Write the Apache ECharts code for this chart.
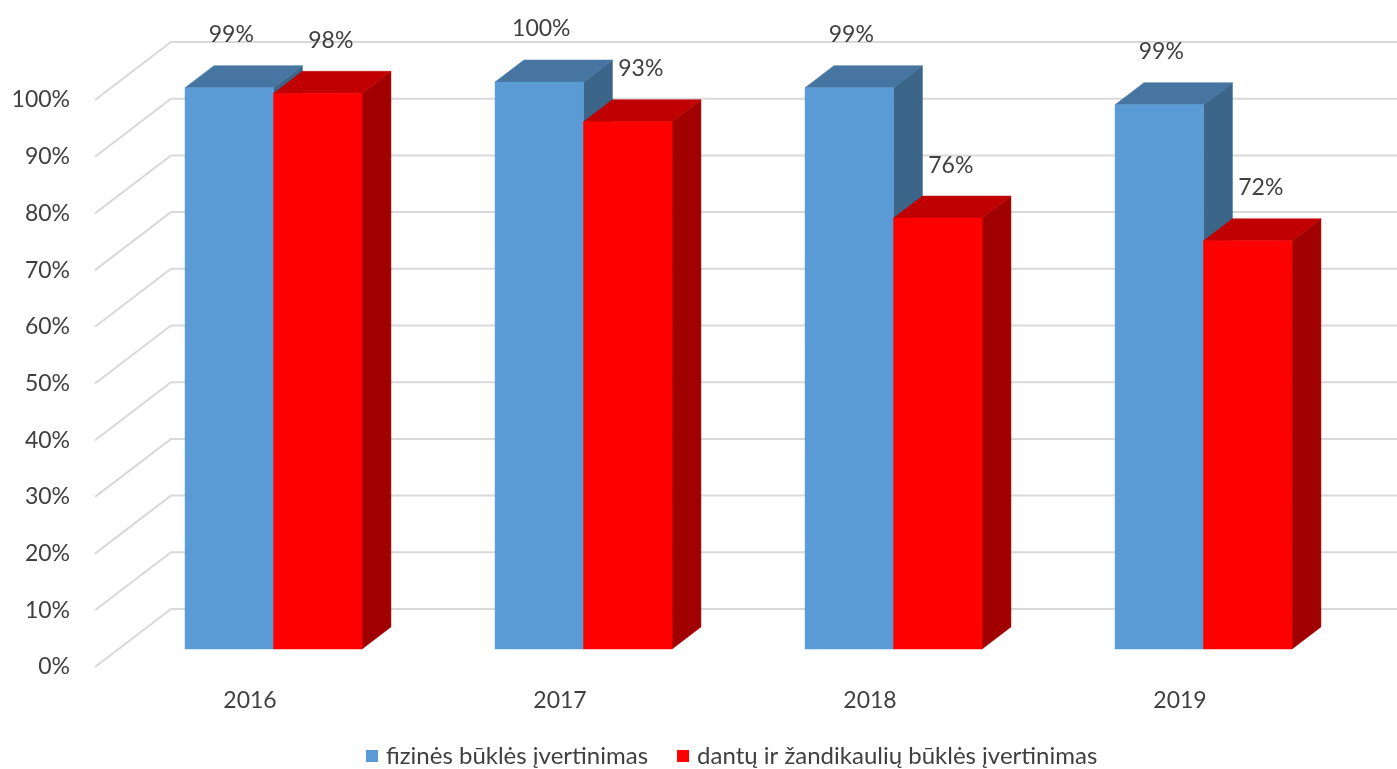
<!DOCTYPE html>
<html>
<head>
<meta charset="utf-8">
<script src="https://cdn.jsdelivr.net/npm/echarts@6/dist/echarts.min.js"></script>
<style>
  html, body { margin: 0; padding: 0; background: #ffffff; }
  #chart { width: 1397px; height: 769px; }
</style>
</head>
<body>
<div id="chart"></div>
<script>
// ---- data ----
const categories = ['2016', '2017', '2018', '2019'];
const seriesNames = ['fizinės būklės įvertinimas', 'dantų ir žandikaulių būklės įvertinimas'];
const fizineValues = [99, 100, 99, 96];
const dantuValues = [98, 93, 76, 72];
const fizineLabels = ['99%', '100%', '99%', '99%'];
const dantuLabels = ['98%', '93%', '76%', '72%'];
const yTicks = [0, 10, 20, 30, 40, 50, 60, 70, 80, 90, 100];

// ---- style constants ----
const FONT = 'Lato, "Open Sans", sans-serif';
const TEXT_COLOR = '#404040';
const FS = 23;
const WALL_DX = 76, WALL_DY = -58;      // depth vector of the chart (front -> back wall)
const DEPTH_FRONT = 0.31, BAR_DEPTH = 0.38;
const BAR_FRAC = 0.2855;                // bar width as share of category band
const LABEL_RISE = 53;
const COLORS = {
  blue: { front: '#5B9BD5', top: '#4675A1', side: '#3B6589' },
  red:  { front: '#FF0000', top: '#C00000', side: '#A00000' }
};

function gridRender(params, api) {
  const v = api.value(1);
  const cs = params.coordSys;
  const y = api.coord([0, v])[1];
  const x0 = cs.x;
  const xb = x0 + WALL_DX, yb = y + WALL_DY;
  return {
    type: 'polyline',
    shape: { points: [[x0, y], [xb, yb], [api.getWidth(), yb]] },
    style: { stroke: '#D9D9D9', lineWidth: 2, fill: null },
    silent: true
  };
}

function makeBarRender(side, col, labels, labelDx) {
  return function (params, api) {
    const i = api.value(0), v = api.value(1);
    const base = api.coord([i, 0]);
    const top = api.coord([i, v]);
    const bw = api.size([1, 0])[0];
    const w = bw * BAR_FRAC;
    const fx = DEPTH_FRONT * WALL_DX, fy = DEPTH_FRONT * WALL_DY;
    const x0 = base[0] + (side === 0 ? -w : 0) + fx;
    const x1 = x0 + w;
    const yb = base[1] + fy;
    const yt = top[1] + fy;
    const dx = BAR_DEPTH * WALL_DX, dy = BAR_DEPTH * WALL_DY;
    return {
      type: 'group',
      children: [
        { type: 'polygon', shape: { points: [[x1, yt], [x1 + dx, yt + dy], [x1 + dx, yb + dy], [x1, yb]] },
          style: { fill: col.side, stroke: col.side, lineWidth: 0.5 } },
        { type: 'polygon', shape: { points: [[x0, yt], [x0 + dx, yt + dy], [x1 + dx, yt + dy], [x1, yt]] },
          style: { fill: col.top, stroke: col.top, lineWidth: 0.5 } },
        { type: 'rect', shape: { x: x0, y: yt, width: w, height: yb - yt },
          style: { fill: col.front, stroke: col.front, lineWidth: 0.5 } },
        { type: 'text', x: x0 + w / 2 + labelDx, y: yt - LABEL_RISE,
          style: { text: labels[params.dataIndex], fill: TEXT_COLOR, font: FS + 'px ' + FONT,
                   align: 'center', verticalAlign: 'middle' } }
      ]
    };
  };
}

const chart = echarts.init(document.getElementById('chart'), null, { renderer: 'canvas' });
chart.setOption({
  backgroundColor: '#ffffff',
  animation: false,
  textStyle: { fontFamily: FONT },
  grid: { left: 95, right: 62, top: 100, bottom: 102, containLabel: false },
  xAxis: {
    type: 'category',
    data: categories,
    axisLine: { show: false },
    axisTick: { show: false },
    axisLabel: { color: TEXT_COLOR, fontSize: FS, fontFamily: FONT, margin: 22 },
    splitLine: { show: false }
  },
  yAxis: {
    type: 'value',
    min: 0, max: 100, interval: 10,
    axisLine: { show: false },
    axisTick: { show: false },
    splitLine: { show: false },
    axisLabel: { color: TEXT_COLOR, fontSize: FS, fontFamily: FONT, margin: 25, formatter: '{value}%' }
  },
  legend: {
    data: seriesNames,
    left: 361, top: 739,
    icon: 'rect', itemWidth: 12, itemHeight: 12, itemGap: 29,
    textStyle: { color: TEXT_COLOR, fontSize: 24, lineHeight: 24, fontFamily: FONT, padding: [0, 0, 0, 3] }
  },
  series: [
    {
      type: 'custom', name: 'grid', silent: true, z: 1,
      data: yTicks.map(v => [0, v]),
      encode: { x: 0, y: 1 },
      renderItem: gridRender
    },
    {
      type: 'custom', name: seriesNames[0], z: 2,
      itemStyle: { color: COLORS.blue.front },
      data: fizineValues.map((v, i) => [i, v]),
      encode: { x: 0, y: 1 },
      renderItem: makeBarRender(0, COLORS.blue, fizineLabels, 2)
    },
    {
      type: 'custom', name: seriesNames[1], z: 3,
      itemStyle: { color: COLORS.red.front },
      data: dantuValues.map((v, i) => [i, v]),
      encode: { x: 0, y: 1 },
      renderItem: makeBarRender(1, COLORS.red, dantuLabels, 13)
    }
  ]
});
</script>
</body>
</html>
